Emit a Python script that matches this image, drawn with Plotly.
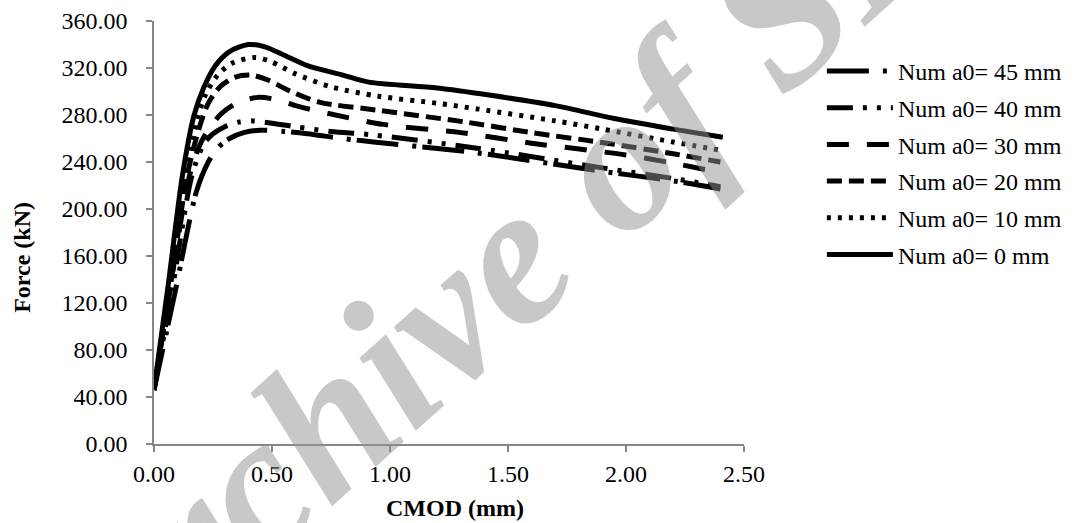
import plotly.graph_objects as go

# ---- data ----
names = ["Num a0= 45 mm", "Num a0= 40 mm", "Num a0= 30 mm",
         "Num a0= 20 mm", "Num a0= 10 mm", "Num a0= 0 mm"]

x_45 = [0, 0.09, 0.18, 0.23, 0.27, 0.32, 0.38, 0.45, 0.55, 0.65, 0.80, 0.93, 1.36, 1.90, 2.20, 2.40]
f_45 = [46, 130, 215, 240, 252, 260, 265, 267, 266, 264, 260, 257, 248, 232, 224, 217]

x_40 = [0, 0.08, 0.16, 0.21, 0.25, 0.30, 0.36, 0.42, 0.50, 0.60, 0.75, 0.93, 1.36, 1.90, 2.20, 2.40]
f_40 = [46, 135, 228, 255, 264, 270, 274, 275, 273, 270, 266, 263, 252, 235, 226, 219]

x_30 = [0, 0.07, 0.15, 0.20, 0.25, 0.29, 0.35, 0.44, 0.52, 0.60, 0.68, 0.97, 1.30, 1.60, 2.00, 2.20, 2.40]
f_30 = [46, 135, 228, 257, 273, 282, 290, 295, 293, 288, 284, 272, 265, 256, 246, 239, 231]

x_20 = [0, 0.07, 0.14, 0.19, 0.23, 0.28, 0.34, 0.41, 0.48, 0.58, 0.70, 0.95, 1.32, 1.60, 1.92, 2.20, 2.40]
f_20 = [46, 135, 228, 268, 290, 304, 312, 314, 310, 300, 291, 284, 274, 265, 256, 247, 240]

x_10 = [0, 0.065, 0.13, 0.18, 0.22, 0.27, 0.33, 0.43, 0.50, 0.60, 0.75, 0.95, 1.20, 1.375, 1.70, 1.90, 2.20, 2.40]
f_10 = [46, 135, 228, 275, 298, 314, 324, 329, 325, 315, 304, 296, 290, 285, 275, 268, 257, 250]

x_0 = [0, 0.06, 0.12, 0.17, 0.21, 0.26, 0.32, 0.40, 0.47, 0.55, 0.65, 0.80, 0.91, 1.20, 1.42, 1.70, 1.95, 2.20, 2.41]
f_0 = [46, 135, 228, 280, 303, 322, 334, 340, 338, 331, 322, 314, 308, 303, 297, 288, 277, 268, 261]

x_ticks = [0, 0.5, 1.0, 1.5, 2.0, 2.5]
y_ticks = [0, 40, 80, 120, 160, 200, 240, 280, 320, 360]

series = [(x_45, f_45), (x_40, f_40), (x_30, f_30), (x_20, f_20), (x_10, f_10), (x_0, f_0)]
dashes = ["42px,14px,4px,6px",
          "26px,10px,4px,10px,4px,10px",
          "22px,18px",
          "15px,7px",
          "4px,7px",
          "solid"]

FONT = "Liberation Serif, Times New Roman, serif"

fig = go.Figure()
for i, ((xs, fs), nm, ds) in enumerate(zip(series, names, dashes)):
    fig.add_trace(go.Scatter(
        x=xs, y=fs, mode="lines", name=nm, legendgroup=f"g{i}",
        line=dict(color="black", width=5, dash=ds, shape="spline", smoothing=0.8),
    ))

axis_color = "#868686"
fig.update_layout(
    width=1074, height=523,
    margin=dict(l=154, r=330, t=21, b=79, autoexpand=False),
    paper_bgcolor="white", plot_bgcolor="white",
    font=dict(family=FONT, size=24, color="black"),
    showlegend=True,
    legend=dict(x=1.132, xanchor="left", y=0.934, yanchor="top",
                font=dict(family=FONT, size=24, color="black"),
                itemwidth=66, tracegroupgap=2.5, bgcolor="rgba(0,0,0,0)"),
    xaxis=dict(range=[0, 2.5], tickvals=x_ticks, tickformat=".2f",
               showgrid=False, zeroline=False, showline=True,
               linecolor=axis_color, linewidth=1.5,
               ticks="outside", ticklen=6, tickcolor=axis_color, tickwidth=1.5,
               tickfont=dict(family=FONT, size=24), ticklabelstandoff=1),
    yaxis=dict(range=[0, 360], tickvals=y_ticks, tickformat=".2f",
               showgrid=False, zeroline=False, showline=True,
               linecolor=axis_color, linewidth=1.5,
               ticks="outside", ticklen=6, tickcolor=axis_color, tickwidth=1.5,
               tickfont=dict(family=FONT, size=24), ticklabelstandoff=14),
)

# axis titles
fig.add_annotation(text="<b>CMOD (mm)</b>", xref="paper", yref="paper",
                   x=0.51, y=-0.151, xanchor="center", yanchor="middle",
                   showarrow=False, font=dict(family=FONT, size=24, color="black"))
fig.add_annotation(text="<b>Force (kN)</b>", xref="paper", yref="paper",
                   x=-0.224, y=0.442, xanchor="center", yanchor="middle", textangle=-90,
                   showarrow=False, font=dict(family=FONT, size=24, color="black"))

# watermark
fig.add_annotation(text="Archive of SID", xref="paper", yref="paper",
                   x=0.620, y=0.466, xanchor="center", yanchor="middle", textangle=-42,
                   showarrow=False,
                   font=dict(family=FONT, size=200, color="rgba(146,146,146,0.5)",
                             weight="bold", style="italic"))

fig.write_html("out.html", config={"displayModeBar": False},
               post_script="document.body.style.margin='0';document.body.style.padding='0';")
